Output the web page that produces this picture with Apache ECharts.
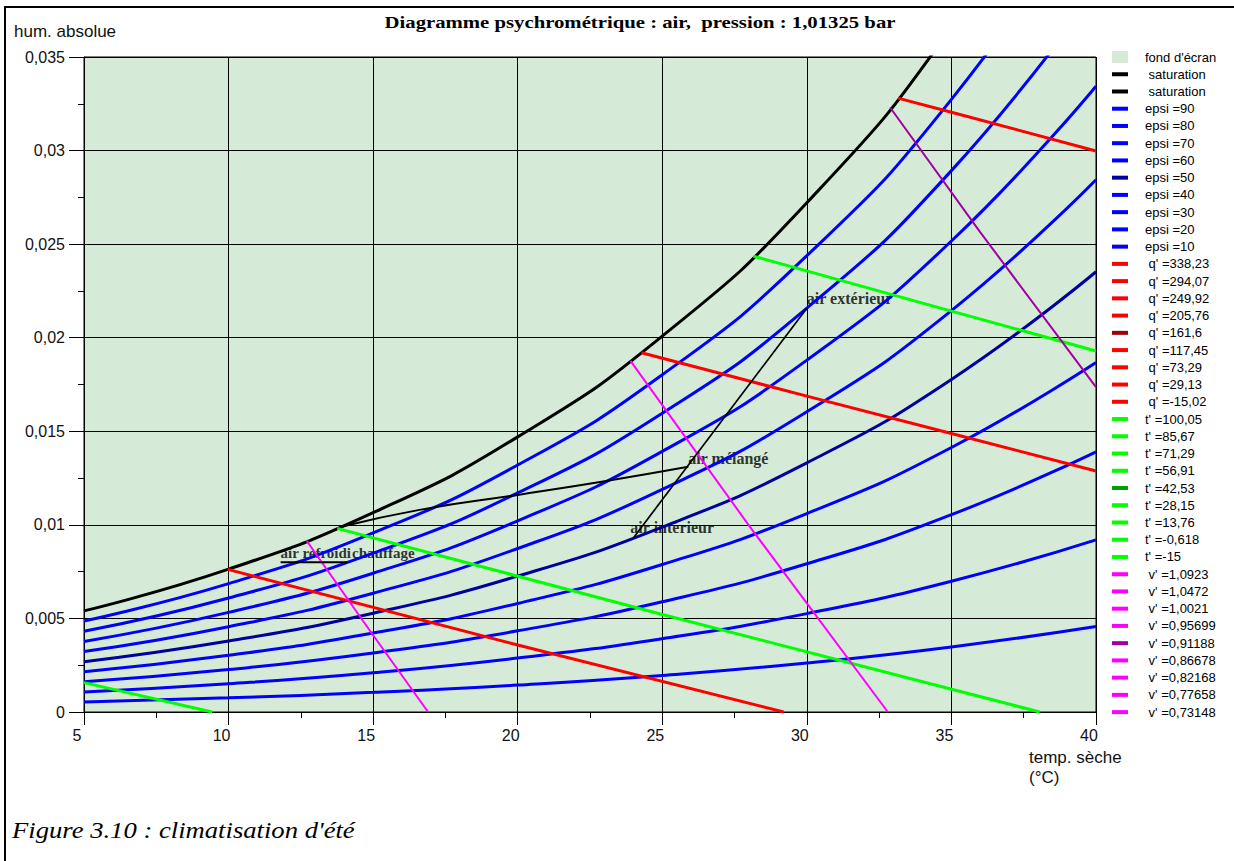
<!DOCTYPE html>
<html>
<head>
<meta charset="utf-8">
<title>Diagramme psychrométrique</title>
<script src="https://cdn.jsdelivr.net/npm/echarts@6.0.0/dist/echarts.min.js"></script>
<style>
html,body{margin:0;padding:0;background:#fff;}
#chart{width:1234px;height:861px;}
</style>
</head>
<body>
<div id="chart"></div>
<script>
// temperatures seches (°C) ou les courbes epsi sont lues
var tempSeche = [5, 10, 15, 20, 25, 30, 35, 40];
// humidite absolue (kg/kg) le long de chaque courbe
var saturation = [0.005403, 0.007632, 0.010650, 0.014700, 0.020087, 0.027212, 0.036587, 0.048897];
var epsi90 = [0.004859, 0.006860, 0.009569, 0.013198, 0.018020, 0.024384, 0.032736, 0.043664];
var epsi80 = [0.004315, 0.006091, 0.008491, 0.011704, 0.015967, 0.021580, 0.028929, 0.038512];
var epsi70 = [0.003772, 0.005323, 0.007417, 0.010217, 0.013926, 0.018801, 0.025167, 0.033439];
var epsi60 = [0.003231, 0.004557, 0.006347, 0.008737, 0.011899, 0.016046, 0.021448, 0.028444];
var epsi50 = [0.002690, 0.003793, 0.005280, 0.007264, 0.009884, 0.013314, 0.017771, 0.023524];
var epsi40 = [0.002150, 0.003031, 0.004217, 0.005798, 0.007882, 0.010606, 0.014136, 0.018678];
var epsi30 = [0.001611, 0.002270, 0.003157, 0.004338, 0.005893, 0.007921, 0.010542, 0.013904];
var epsi20 = [0.001073, 0.001512, 0.002101, 0.002885, 0.003916, 0.005258, 0.006989, 0.009201];
var epsi10 = [0.000536, 0.000755, 0.001049, 0.001439, 0.001952, 0.002618, 0.003475, 0.004567];

// droites q' (enthalpie), t' et v' : [temp. seche, hum. absolue]
var q29 = [[9.97, 0.00762], [20, 0.00358], [29.2, 0]];
var q73 = [[24.28, 0.0192], [30, 0.01688], [35, 0.01488], [40, 0.01288]];
var q117 = [[33.15, 0.0328], [35, 0.03205], [40, 0.02998]];
var tMoins06 = [[5, 0.00157], [9.43, 0]];
var t1376 = [[13.76, 0.00981], [25, 0.00521], [38.05, 0]];
var t2815 = [[28.15, 0.02436], [34, 0.02185], [40, 0.01929]];
var v0822 = [[12.7, 0.00915], [15, 0.0041], [16.9, 0]];
var v0867 = [[23.9, 0.01876], [28, 0.00996], [32.8, 0]];
var v0912 = [[32.88, 0.0323], [36, 0.02563], [40, 0.01736]];

// evolution de l'air (climatisation d'ete)
var ligneExtInt = [[24.0, 0.0093], [30.0, 0.02158]];
var ligneMelange = [[13.9, 0.0099], [16.6, 0.0108], [20, 0.0116], [22.9, 0.0123], [25.9, 0.0131]];
var ligneChauffage = [[11.8, 0.0080], [14.1, 0.0080]];
var pointsAir = [[30.0, 0.02158], [25.9, 0.0131], [24.0, 0.0093], [11.8, 0.0080], [14.1, 0.0080]];
var nomsAir = ['air extérieur', 'air mélangé', 'air intérieur', 'air refroidi', 'chauffage'];
var decalAir = [[0, -10], [0, -8], [-3, -10], [0, -9], [5, -9]];
var taillesAir = [16, 16, 16, 15, 15];

var bleu = '#0000ff', rouge = '#ff0000', vert = '#00ff00', rose = '#ff00ff';
var iconeLigne = 'path://M0,0H16V4H0Z';

function courbeEpsi(nom, valeurs, couleur) {
    return courbe(nom, couleur, 3, tempSeche.map(function (t, i) { return [t, valeurs[i]]; }), true);
}
function courbe(nom, couleur, largeur, data, lisse) {
    return {
        name: nom, type: 'line', data: data, color: couleur,
        symbol: 'none', smooth: lisse ? true : false, clip: true, silent: true,
        lineStyle: {width: largeur, color: couleur}
    };
}
function virgule(v) {
    return String(Math.round(v * 100000) / 100000).replace('.', ',');
}

var series = [
    {name: "fond d'écran", type: 'line', data: [], color: '#d5ebd7'},
    courbeEpsi(' saturation', saturation, '#000000'),
    courbe('\u00a0saturation', '#000000', 2.5, []),
    courbeEpsi('epsi =90', epsi90, bleu),
    courbeEpsi('epsi =80', epsi80, bleu),
    courbeEpsi('epsi =70', epsi70, bleu),
    courbeEpsi('epsi =60', epsi60, bleu),
    courbeEpsi('epsi =50', epsi50, '#0000a0'),
    courbeEpsi('epsi =40', epsi40, bleu),
    courbeEpsi('epsi =30', epsi30, bleu),
    courbeEpsi('epsi =20', epsi20, bleu),
    courbeEpsi('epsi =10', epsi10, bleu),
    courbe(" q' =338,23", rouge, 3, []),
    courbe(" q' =294,07", rouge, 3, []),
    courbe(" q' =249,92", rouge, 3, []),
    courbe(" q' =205,76", rouge, 3, []),
    courbe(" q' =161,6", '#a00000', 3, []),
    courbe(" q' =117,45", rouge, 3, q117),
    courbe(" q' =73,29", rouge, 3, q73),
    courbe(" q' =29,13", rouge, 3, q29),
    courbe(" q' =-15,02", rouge, 3, []),
    courbe("t' =100,05", vert, 3, []),
    courbe("t' =85,67", vert, 3, []),
    courbe("t' =71,29", vert, 3, []),
    courbe("t' =56,91", vert, 3, []),
    courbe("t' =42,53", '#00a000', 3, []),
    courbe("t' =28,15", vert, 3, t2815),
    courbe("t' =13,76", vert, 3, t1376),
    courbe("t' =-0,618", vert, 3, tMoins06),
    courbe("t' =-15", vert, 3, []),
    courbe(" v' =1,0923", rose, 2, []),
    courbe(" v' =1,0472", rose, 2, []),
    courbe(" v' =1,0021", rose, 2, []),
    courbe(" v' =0,95699", rose, 2, []),
    courbe(" v' =0,91188", '#a000a0', 2, v0912),
    courbe(" v' =0,86678", rose, 2, v0867),
    courbe(" v' =0,82168", rose, 2, v0822),
    courbe(" v' =0,77658", rose, 2, []),
    courbe(" v' =0,73148", rose, 2, [])
];
var legendeNoms = series.map(function (s) { return s.name; });

series.push(courbe('ext-int', '#000000', 1.7, ligneExtInt));
series.push(courbe('melange', '#000000', 2, ligneMelange, true));
series.push(courbe('chauffage-ligne', '#000000', 2, ligneChauffage));
series.push({
    name: 'points', type: 'scatter', symbolSize: 0, silent: true,
    data: pointsAir.map(function (p, i) {
        return {value: p, label: {formatter: nomsAir[i], offset: decalAir[i], fontSize: taillesAir[i]}};
    }),
    label: {
        show: true, position: 'right', distance: 0, color: '#000',
        fontFamily: 'Liberation Serif', fontWeight: 'bold', fontSize: 16
    }
});

var chart = echarts.init(document.getElementById('chart'), null, {renderer: 'svg'});
chart.setOption({
    animation: false,
    backgroundColor: '#ffffff',
    legend: {
        orient: 'vertical', left: 1107, top: 45.5,
        itemWidth: 16, itemHeight: 12, itemGap: 4.24,
        selectedMode: false,
        data: legendeNoms.map(function (n, i) {
            return {name: n, icon: i === 0 ? 'rect' : iconeLigne};
        }),
        textStyle: {fontFamily: 'Liberation Sans', fontSize: 13, color: '#000', lineHeight: 12, padding: [0, 0, 0, 12]}
    },
    grid: {
        left: 84, top: 57, right: 138, bottom: 149,
        show: true, backgroundColor: '#d5ebd7', borderColor: '#000', borderWidth: 1
    },
    xAxis: {
        type: 'value', min: 5, max: 40, interval: 5,
        axisLine: {lineStyle: {color: '#000', width: 1}},
        axisTick: {length: 13, lineStyle: {color: '#000'}},
        minorTick: {show: true, splitNumber: 2, length: 6, lineStyle: {color: '#000'}},
        splitLine: {show: true, lineStyle: {color: '#000', width: 1}},
        axisLabel: {
            margin: 15, color: '#111', fontFamily: 'Liberation Sans', fontSize: 16,
            padding: [0, 14, 0, 0], formatter: virgule
        }
    },
    yAxis: {
        type: 'value', min: 0, max: 0.035, interval: 0.005,
        axisLine: {show: true, lineStyle: {color: '#000', width: 1}},
        axisTick: {show: true, length: 15, lineStyle: {color: '#000'}},
        minorTick: {show: true, splitNumber: 2, length: 6, lineStyle: {color: '#000'}},
        splitLine: {show: true, lineStyle: {color: '#000', width: 1}},
        axisLabel: {
            margin: 19, color: '#111', fontFamily: 'Liberation Sans', fontSize: 16,
            formatter: virgule
        }
    },
    graphic: [
        {type: 'line', shape: {x1: 4, y1: 7, x2: 1234, y2: 7}, style: {stroke: '#000', lineWidth: 2}},
        {type: 'line', shape: {x1: 5, y1: 7, x2: 5, y2: 861}, style: {stroke: '#000', lineWidth: 2}},
        {type: 'text', x: 640, y: 22, scaleX: 1.22,
            style: {text: 'Diagramme psychrométrique : air,  pression : 1,01325 bar',
                font: 'bold 17px "Liberation Serif"', fill: '#000',
                textAlign: 'center', textVerticalAlign: 'middle'}},
        {type: 'text', x: 14, y: 31,
            style: {text: 'hum. absolue', font: '17px "Liberation Sans"', fill: '#111', textVerticalAlign: 'middle'}},
        {type: 'text', x: 1029, y: 747,
            style: {text: 'temp. sèche\n(°C)', font: '17px "Liberation Sans"', lineHeight: 20, fill: '#111'}},
        {type: 'text', x: 12, y: 829, scaleX: 1.11,
            style: {text: "Figure 3.10 : climatisation d'été", font: 'italic 24px "Liberation Serif"',
                fill: '#000', textVerticalAlign: 'middle'}}
    ],
    series: series
});
</script>
</body>
</html>
